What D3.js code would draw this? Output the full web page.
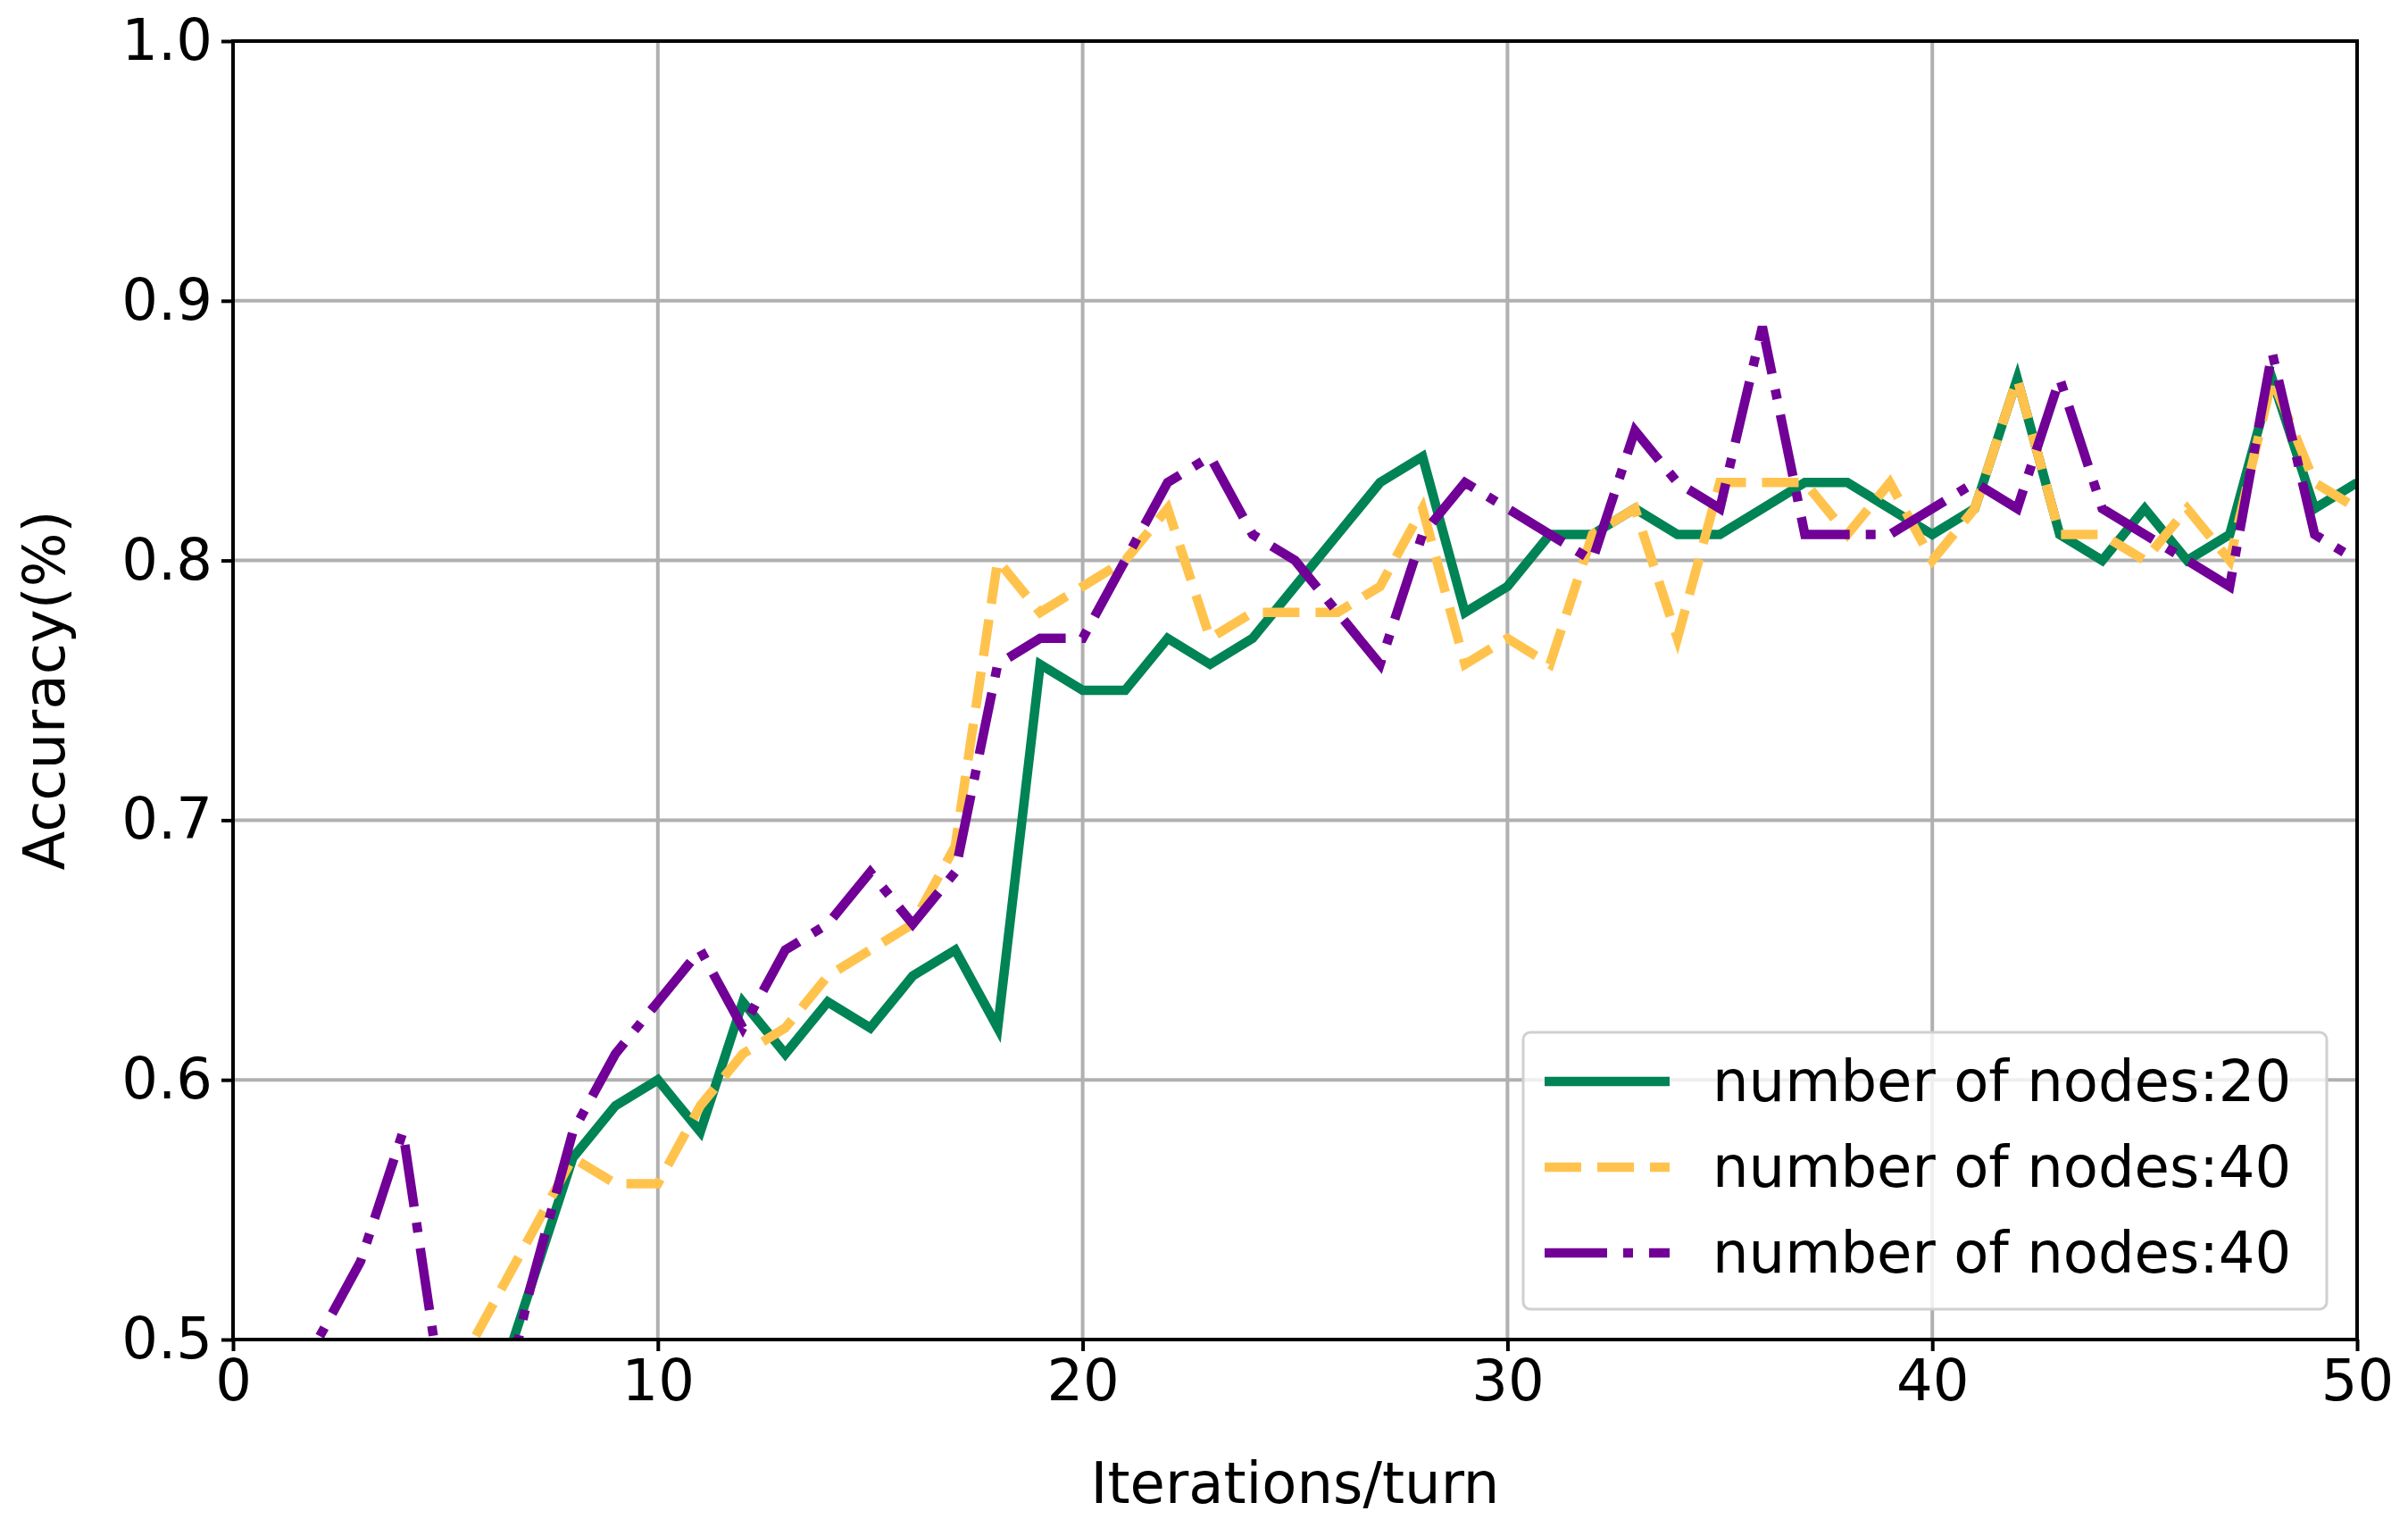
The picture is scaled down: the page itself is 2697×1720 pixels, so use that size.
<!DOCTYPE html>
<html><head><meta charset="utf-8">
<script src="https://cdn.jsdelivr.net/npm/d3@7"></script>
<style>body{margin:0;background:#fff}</style></head>
<body><svg id="c" width="2697" height="1720"></svg>
<script>
const xs = d3.range(0,51);
const green = [0.40,0.42,0.43,0.44,0.45,0.45,0.47,0.52,0.57,0.59,0.60,0.58,0.63,0.61,0.63,0.62,0.64,0.65,0.62,0.76,0.75,0.75,0.77,0.76,0.77,0.79,0.81,0.83,0.84,0.78,0.79,0.81,0.81,0.82,0.81,0.81,0.82,0.83,0.83,0.82,0.81,0.82,0.87,0.81,0.80,0.82,0.80,0.81,0.87,0.82,0.83];
const yellow = [0.40,0.42,0.43,0.44,0.45,0.48,0.51,0.54,0.57,0.56,0.56,0.59,0.61,0.62,0.64,0.65,0.66,0.69,0.80,0.78,0.79,0.80,0.82,0.77,0.78,0.78,0.78,0.79,0.82,0.76,0.77,0.76,0.81,0.82,0.77,0.83,0.83,0.83,0.81,0.83,0.80,0.82,0.87,0.81,0.81,0.80,0.82,0.80,0.87,0.83,0.82];
const purple = [0.44,0.46,0.50,0.53,0.58,0.47,0.45,0.52,0.58,0.61,0.63,0.65,0.62,0.65,0.66,0.68,0.66,0.68,0.76,0.77,0.77,0.80,0.83,0.84,0.81,0.80,0.78,0.76,0.81,0.83,0.82,0.81,0.80,0.85,0.83,0.82,0.89,0.81,0.81,0.81,0.82,0.83,0.82,0.87,0.82,0.81,0.80,0.79,0.88,0.81,0.80];
const seriesNames = ["number of nodes:20","number of nodes:40","number of nodes:40"];
const xTicks = [0,10,20,30,40,50];
const yTicks = [0.5,0.6,0.7,0.8,0.9,1.0];

const L=261,R=2640,T=46,B=1500;
const svg=d3.select("#c");
const x=d3.scaleLinear().domain([0,50]).range([L,R]);
const y=d3.scaleLinear().domain([0.5,1.0]).range([B,T]);
const font="DejaVu Sans", fs=64;
svg.append("g").selectAll("line").data(xTicks).join("line")
 .attr("x1",d=>x(d)).attr("x2",d=>x(d)).attr("y1",T).attr("y2",B).attr("stroke","#b0b0b0").attr("stroke-width",4);
svg.append("g").selectAll("line").data(yTicks).join("line")
 .attr("y1",d=>y(d)).attr("y2",d=>y(d)).attr("x1",L).attr("x2",R).attr("stroke","#b0b0b0").attr("stroke-width",4);
svg.append("clipPath").attr("id","cp").append("rect").attr("x",L).attr("y",T).attr("width",R-L).attr("height",B-T);
const line=d3.line().x((d,i)=>x(xs[i])).y(d=>y(d));
const styles=[{c:"#008355",da:null},{c:"#FFC34D",da:"41,18"},{c:"#710096",da:"70,18,11,18"}];
[green,yellow,purple].forEach((s,k)=>{
 svg.append("path").attr("d",line(s)).attr("fill","none").attr("stroke",styles[k].c)
  .attr("stroke-width",10.5).attr("stroke-dasharray",styles[k].da).attr("clip-path","url(#cp)");
});
const xa=svg.append("g").attr("transform",`translate(0,${B})`).call(d3.axisBottom(x).tickValues(xTicks).tickSize(13).tickPadding(10).tickFormat(d3.format("d")));
const ya=svg.append("g").attr("transform",`translate(${L},0)`).call(d3.axisLeft(y).tickValues(yTicks).tickSize(13).tickPadding(10).tickFormat(d3.format(".1f")));
[xa,ya].forEach(a=>{a.selectAll("text").attr("font-family",font).attr("font-size",fs).attr("fill","#000");
 a.selectAll("line").attr("stroke-width",4);a.select(".domain").remove();});
svg.append("rect").attr("x",L).attr("y",T).attr("width",R-L).attr("height",B-T).attr("fill","none").attr("stroke","#000").attr("stroke-width",4);
svg.append("text").attr("x",(L+R)/2).attr("y",1683).attr("text-anchor","middle").attr("font-family",font).attr("font-size",fs).text("Iterations/turn");
svg.append("text").attr("transform",`translate(72,${(T+B)/2}) rotate(-90)`).attr("text-anchor","middle").attr("font-family",font).attr("font-size",fs).text("Accuracy(%)");
const lg=svg.append("g");
lg.append("rect").attr("x",1706).attr("y",1156).attr("width",900).attr("height",310).attr("rx",8).attr("fill","#fff").attr("fill-opacity",0.8).attr("stroke","#d0d0d0").attr("stroke-width",3);
seriesNames.forEach((n,k)=>{
 const yy=1211+k*96;
 lg.append("line").attr("x1",1730).attr("x2",1870).attr("y1",yy).attr("y2",yy).attr("stroke",styles[k].c).attr("stroke-width",10.5).attr("stroke-dasharray",styles[k].da);
 lg.append("text").attr("x",1918).attr("y",yy+22).attr("font-family",font).attr("font-size",fs).text(n);
});
</script></body></html>
